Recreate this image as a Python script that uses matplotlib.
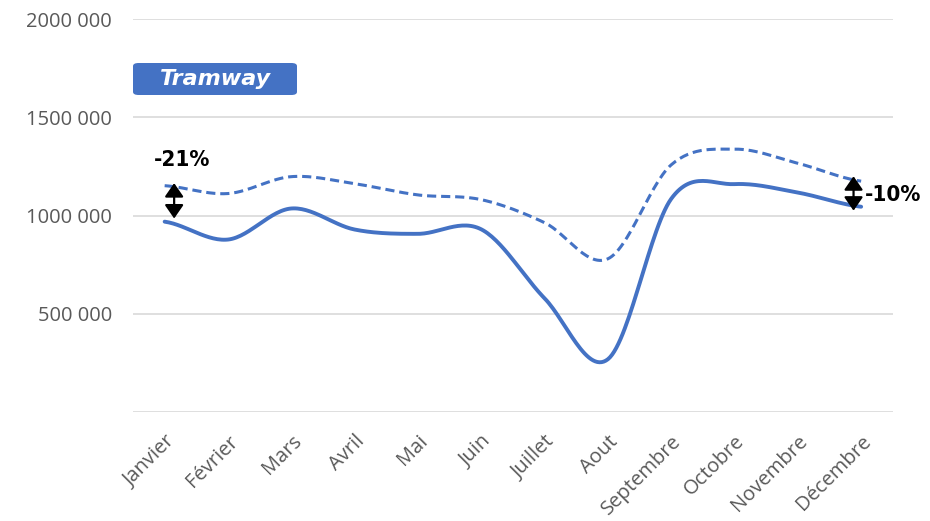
import numpy as np
import matplotlib
matplotlib.use("Agg")
import matplotlib.pyplot as plt
from matplotlib.patches import FancyBboxPatch

# données
mois = ['Janvier', 'Février', 'Mars', 'Avril', 'Mai', 'Juin', 'Juillet',
        'Aout', 'Septembre', 'Octobre', 'Novembre', 'Décembre']
annee_courante = [969000, 878000, 1036000, 929000, 907000, 930000,
                  579000, 269000, 1085000, 1160000, 1117000, 1045000]
annee_precedente = [1152000, 1112000, 1198000, 1162000, 1105000, 1081000,
                    964000, 780000, 1258000, 1338000, 1266000, 1175000]
yticks = [0, 500000, 1000000, 1500000, 2000000]
ytick_labels = ['', '500 000', '1000 000', '1500 000', '2000 000']
titre = 'Tramway'
ecart_debut = '-21%'
ecart_fin = '-10%'

bleu = '#4472C4'


def lisser(x, y, n=30):
    # courbe lissée type Excel (Catmull-Rom)
    x = np.asarray(x, float)
    y = np.asarray(y, float)
    px = np.concatenate([[2 * x[0] - x[1]], x, [2 * x[-1] - x[-2]]])
    py = np.concatenate([[y[0]], y, [y[-1]]])
    xs, ys = [], []
    t = np.linspace(0, 1, n, endpoint=False)
    for i in range(1, len(px) - 2):
        for p, out in ((px, xs), (py, ys)):
            p0, p1, p2, p3 = p[i - 1], p[i], p[i + 1], p[i + 2]
            c1 = p1 + (p2 - p0) / 6
            c2 = p2 - (p3 - p1) / 6
            out.extend((1 - t) ** 3 * p1 + 3 * (1 - t) ** 2 * t * c1
                       + 3 * (1 - t) * t ** 2 * c2 + t ** 3 * p2)
    xs.append(x[-1])
    ys.append(y[-1])
    return np.array(xs), np.array(ys)


fig = plt.figure(figsize=(9.3, 5.21), dpi=100)
ax = fig.add_axes([0.143, 0.209, 0.817, 0.7545])

x = np.arange(len(mois))
xs, ys = lisser(x, annee_precedente)
ax.plot(xs, ys, color=bleu, lw=2.2, ls=(0, (3.0, 1.6)), solid_capstyle='butt')
xs, ys = lisser(x, annee_courante)
ax.plot(xs, ys, color=bleu, lw=2.8, solid_capstyle='round')

ax.set_xlim(-0.5, len(mois) - 0.5)
ax.set_ylim(0, 2000000)
ax.set_yticks(yticks)
ax.set_yticklabels(ytick_labels)
ax.set_xticks(x)
ax.set_xticklabels(mois, rotation=45, ha='right', rotation_mode='anchor')
ax.tick_params(length=0, labelsize=14.5, labelcolor='#595959')
ax.tick_params(axis='y', pad=15)
ax.tick_params(axis='x', pad=14)
for lab in ax.get_xticklabels() + ax.get_yticklabels():
    lab.set_fontfamily('Open Sans')
ax.yaxis.grid(True, color='#d9d9d9', lw=1.2)
ax.set_axisbelow(True)
for s in ax.spines.values():
    s.set_visible(False)

# flèches d'écart
fleche = dict(arrowstyle='<|-|>,head_length=0.55,head_width=0.38',
              color='black', lw=1.6, mutation_scale=15, shrinkA=0, shrinkB=0)
ax.annotate('', xy=(0.15, 985000), xytext=(0.15, 1165000), arrowprops=fleche)
ax.text(0.28, 1230000, ecart_debut, fontsize=16, fontweight='bold',
        ha='center', va='bottom', family='DejaVu Sans', stretch='condensed')
ax.annotate('', xy=(10.88, 1025000), xytext=(10.88, 1200000),
            arrowprops=fleche)
ax.text(11.06, 1105000, ecart_fin, fontsize=16, fontweight='bold',
        ha='left', va='center', family='DejaVu Sans', stretch='condensed')

# étiquette
boite = FancyBboxPatch((133 / 930, 1 - 95 / 521), 164 / 930, 32 / 521,
                       boxstyle='round,pad=0,rounding_size=0.006',
                       transform=fig.transFigure, facecolor=bleu,
                       edgecolor='none')
fig.patches.append(boite)
fig.text(215 / 930, 1 - 79 / 521, titre, color='white', fontsize=16,
         fontweight='bold', style='italic', ha='center', va='center',
         family='DejaVu Sans')

fig.savefig('out.png', dpi=100)
